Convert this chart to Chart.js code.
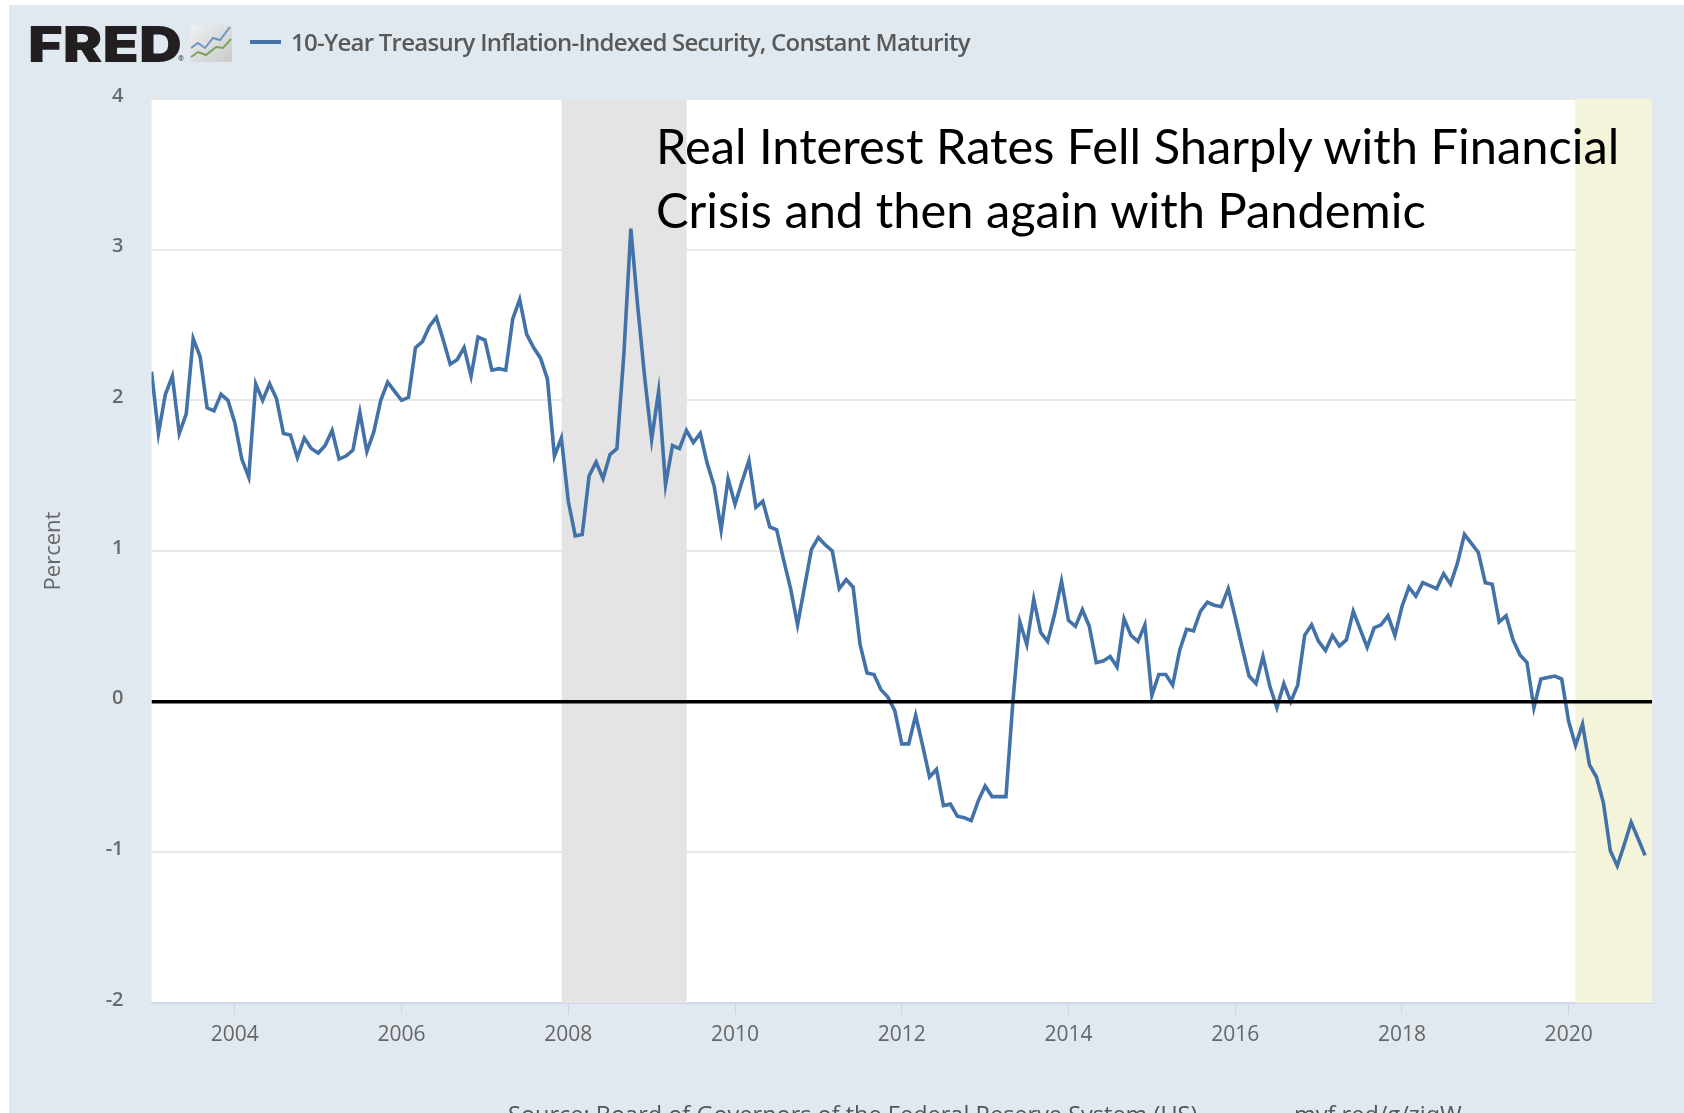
<!DOCTYPE html>
<html><head><meta charset="utf-8">
<style>
html,body{margin:0;padding:0;background:#fff;width:1684px;height:1113px;overflow:hidden}
#bg{position:absolute;left:9px;top:5px;width:1675px;height:1108px;background:#e1e9f0}
canvas{position:absolute;left:0;top:0;filter:blur(.5px)}
.t{position:absolute;white-space:nowrap}
#fred{left:28px;top:14px;font:900 50px Inter;color:#231f20;transform:scaleX(1.19);transform-origin:0 0;line-height:60px}
#reg{left:178px;top:54px;font:bold 7px "Open Sans";color:#444}
#leg{left:291px;top:25px;font:600 24px "Open Sans";color:#595959;letter-spacing:-.74px;filter:blur(.4px)}
#legline{position:absolute;left:250px;top:40px;width:31px;height:4px;background:#4572a7}
.ann{left:656px;font:48.8px Lato;color:#000}
.src{font:23.5px "Open Sans";color:#555;top:1098px;filter:blur(.4px)}
</style>
<script src="https://cdn.jsdelivr.net/npm/chart.js@4"></script>
</head><body>
<div id="bg"></div>
<canvas id="c" width="1684" height="1113"></canvas>
<div class="t" id="fred">FRED</div>
<div class="t" id="reg">®</div>
<svg style="position:absolute;left:190px;top:25px" width="42" height="37" viewBox="0 0 42 37"><defs><linearGradient id="g" x1="0" y1="0" x2="1" y2="1"><stop offset="0" stop-color="#eef1f2"/><stop offset="1" stop-color="#c8cacb"/></linearGradient></defs><rect width="42" height="37" rx="2" fill="url(#g)"/><polyline points="1,23 8,18 15,23 23,13 30,15 40,2" fill="none" stroke="#6f97bd" stroke-width="2"/><polyline points="1,32 8,27 16,30 26,22 33,23 41,14" fill="none" stroke="#79a653" stroke-width="2"/></svg>
<div id="legline"></div>
<div class="t" id="leg">10-Year Treasury Inflation-Indexed Security, Constant Maturity</div>
<div class="t ann" style="top:116px">Real Interest Rates Fell Sharply with Financial</div>
<div class="t ann" style="top:180px">Crisis and then again with Pandemic</div>
<div class="t src" style="left:508px">Source: Board of Governors of the Federal Reserve System (US)</div>
<div class="t src" style="left:1294px">myf.red/g/zjqW</div>
<script>
const axisStart = 2003, axisEnd = 2021;
const rates = [
2.19,1.78,2.04,2.16,1.78,1.91,2.41,2.29,1.95,1.93,2.04,2.00,
1.85,1.61,1.49,2.11,2.00,2.11,2.01,1.78,1.77,1.62,1.75,1.68,
1.65,1.70,1.80,1.61,1.63,1.67,1.92,1.66,1.79,2.00,2.12,2.06,
2.00,2.02,2.35,2.39,2.49,2.55,2.40,2.24,2.27,2.35,2.16,2.42,
2.40,2.20,2.21,2.20,2.54,2.67,2.44,2.35,2.28,2.14,1.63,1.75,
1.33,1.10,1.11,1.50,1.59,1.48,1.64,1.68,2.31,3.14,2.62,2.15,
1.74,2.06,1.44,1.70,1.68,1.80,1.72,1.78,1.58,1.43,1.14,1.48,
1.31,1.46,1.60,1.29,1.33,1.16,1.14,0.94,0.75,0.51,0.76,1.01,
1.09,1.04,1.00,0.75,0.81,0.76,0.38,0.19,0.18,0.08,0.03,-0.06,
-0.28,-0.28,-0.09,-0.29,-0.50,-0.45,-0.69,-0.68,-0.76,-0.77,-0.79,-0.66,
-0.56,-0.63,-0.63,-0.63,0.00,0.53,0.38,0.68,0.46,0.40,0.58,0.80,
0.54,0.50,0.61,0.50,0.26,0.27,0.30,0.23,0.55,0.44,0.40,0.51,
0.04,0.18,0.18,0.11,0.34,0.48,0.47,0.60,0.66,0.64,0.63,0.75,
0.56,0.36,0.17,0.12,0.30,0.10,-0.04,0.12,0.00,0.11,0.44,0.51,
0.40,0.34,0.44,0.37,0.41,0.60,0.48,0.36,0.49,0.51,0.57,0.44,
0.63,0.76,0.70,0.79,0.77,0.75,0.85,0.78,0.92,1.11,1.05,0.99,
0.79,0.78,0.53,0.57,0.41,0.31,0.26,-0.04,0.15,0.16,0.17,0.15,
-0.13,-0.29,-0.15,-0.42,-0.50,-0.67,-0.99,-1.09,-0.95,-0.80,-0.91,-1.02];
const yearTicks = [2004,2006,2008,2010,2012,2014,2016,2018,2020];
const percentTicks = [-2,-1,0,1,2,3,4];
const recessionStart = 2007.92, recessionEnd = 2009.42;
const pandemicStart = 2020.08, pandemicEnd = 2021;
const seriesName = '10-Year Treasury Inflation-Indexed Security, Constant Maturity';

const points = rates.map((v,i)=>({x:axisStart+i/12,y:v}));
const bands = {id:'bands',
  beforeDraw(ch){const a=ch.chartArea,c=ch.ctx;c.save();c.fillStyle='#fff';c.fillRect(a.left,a.top,a.width,a.height);c.restore();},
  beforeDatasetsDraw(ch){const a=ch.chartArea,c=ch.ctx,x=ch.scales.x;c.save();
    c.fillStyle='#e4e4e4';c.fillRect(x.getPixelForValue(recessionStart),a.top,x.getPixelForValue(recessionEnd)-x.getPixelForValue(recessionStart),a.height);
    c.fillStyle='rgba(243,243,215,.92)';c.fillRect(x.getPixelForValue(pandemicStart),a.top,x.getPixelForValue(pandemicEnd)-x.getPixelForValue(pandemicStart),a.height);
    c.restore();}};
new Chart(document.getElementById('c'),{
  type:'line',
  data:{datasets:[
    {label:'Zero',data:[{x:axisStart,y:0},{x:axisEnd,y:0}],borderColor:'#000',borderWidth:3.5,pointRadius:0,order:0},
    {label:seriesName,data:points,borderColor:'#4272a8',borderWidth:3.6,pointRadius:0,tension:0,order:1}
  ]},
  plugins:[bands],
  options:{responsive:false,animation:false,
    layout:{padding:{left:0,top:99,right:32,bottom:1}},
    plugins:{legend:{display:false},tooltip:{enabled:false}},
    scales:{
      x:{type:'linear',min:axisStart,max:axisEnd,
        afterBuildTicks(s){s.ticks=yearTicks.map(v=>({value:v}));},
        afterFit(s){s.height=109;},
        grid:{drawOnChartArea:false,drawTicks:true,tickLength:11,color:'#ccd6eb'},
        border:{color:'#cfd9ea',width:2},
        ticks:{callback:v=>String(v),maxRotation:0,autoSkip:false,padding:8,color:'#666',font:{family:'Open Sans',size:21}}},
      y:{min:-2,max:4,
        afterBuildTicks(s){s.ticks=percentTicks.map(v=>({value:v}));},
        afterFit(s){s.width=151.5;},
        title:{display:true,text:'Percent',color:'#666',font:{family:'Open Sans',size:22},padding:{top:41,bottom:0}},
        grid:{drawTicks:false,color:'#e8e8e8',lineWidth:2},
        border:{display:false},
        ticks:{callback:v=>String(v),padding:28,labelOffset:-3,color:'#6a6a6a',font:{family:'Open Sans',size:20,weight:'600'}}}
    }}
});
</script>
</body></html>
